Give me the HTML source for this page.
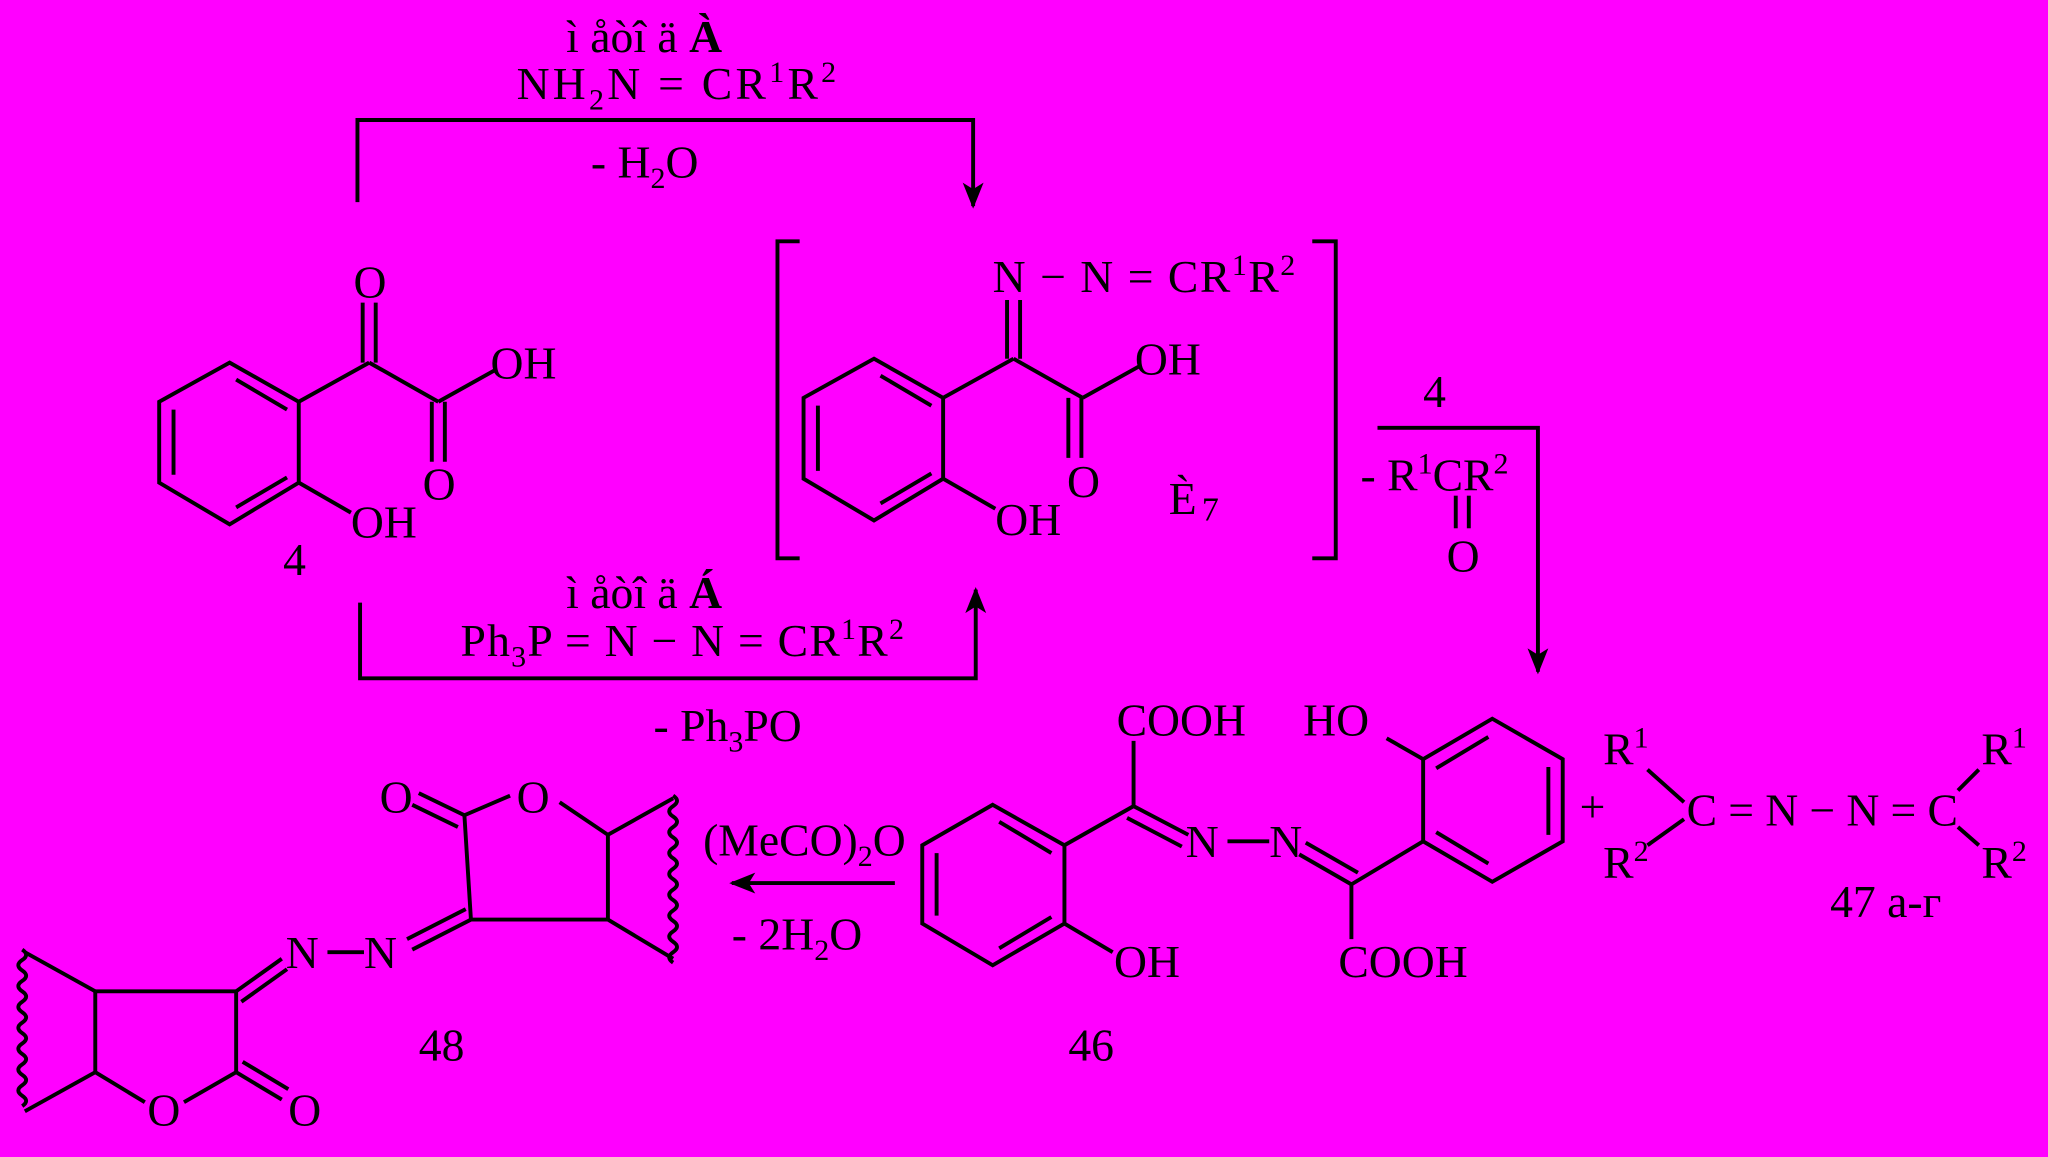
<!DOCTYPE html>
<html><head><meta charset="utf-8"><style>
html,body{margin:0;padding:0;background:#FF00FF;}
svg{display:block}
text{font-family:"Liberation Serif",serif;font-size:35px;fill:#000;}
</style></head><body>
<svg width="2048" height="1157" viewBox="0 0 1568 887" xmlns="http://www.w3.org/2000/svg">
<rect width="1568" height="887" fill="#FF00FF"/>
<defs>
<marker id="ah2" viewBox="0 0 20 20" markerWidth="20" markerHeight="20" refX="18" refY="10" orient="auto" markerUnits="userSpaceOnUse">
<path d="M0,2 L20,10 L0,18 L5,10 Z" fill="#000"/></marker>
</defs>
<g stroke="#000" stroke-width="3" fill="none">
<polyline points="273,155 273,92 745,92 745,158" marker-end="url(#ah2)"/>
<polyline points="275,462 275,520 747,520 747,452" marker-end="url(#ah2)"/>
<polyline points="1055,328 1178,328 1178,515" marker-end="url(#ah2)"/>
<line x1="685" y1="677" x2="560" y2="677" marker-end="url(#ah2)"/>
<polyline points="612,185 595,185 595,428 612,428"/>
<polyline points="1005,185 1023,185 1023,428 1005,428"/>
<g>
<polygon points="175,278 228,308 228,370 175,402 121,370 121,308"/>
<line x1="132" y1="314" x2="132" y2="364"/>
<line x1="180" y1="291" x2="219" y2="314"/>
<line x1="180" y1="389" x2="219" y2="366"/>
<line x1="228" y1="308" x2="282" y2="278"/>
<line x1="282" y1="278" x2="335" y2="308"/>
<line x1="335" y1="308" x2="378" y2="284"/>
<line x1="228" y1="370" x2="268" y2="393"/>
</g>
<line x1="277" y1="278" x2="277" y2="232"/><line x1="287" y1="278" x2="287" y2="232"/>
<line x1="330" y1="308" x2="330" y2="354"/><line x1="340" y1="308" x2="340" y2="354"/>
<g transform="translate(494,-3)">
<polygon points="175,278 228,308 228,370 175,402 121,370 121,308"/>
<line x1="132" y1="314" x2="132" y2="364"/>
<line x1="180" y1="291" x2="219" y2="314"/>
<line x1="180" y1="389" x2="219" y2="366"/>
<line x1="228" y1="308" x2="282" y2="278"/>
<line x1="282" y1="278" x2="335" y2="308"/>
<line x1="335" y1="308" x2="378" y2="284"/>
<line x1="228" y1="370" x2="268" y2="393"/>
<line x1="771" y1="275" x2="771" y2="230" transform="translate(-494,3)"/>
<line x1="781" y1="275" x2="781" y2="230" transform="translate(-494,3)"/>
<line x1="324" y1="308" x2="324" y2="354"/><line x1="334" y1="308" x2="334" y2="354"/>
</g>
<line x1="1115" y1="380" x2="1115" y2="405"/><line x1="1125" y1="380" x2="1125" y2="405"/>
<polygon points="760,617 815,648 815,708 760,740 706,708 706,648"/>
<line x1="717" y1="654" x2="717" y2="702"/>
<line x1="765" y1="630" x2="805" y2="654"/>
<line x1="765" y1="727" x2="805" y2="703"/>
<line x1="815" y1="648" x2="868" y2="618"/>
<line x1="868" y1="618" x2="868" y2="568"/>
<line x1="868" y1="618" x2="910" y2="640"/><line x1="863" y1="627" x2="905" y2="649"/>
<line x1="815" y1="708" x2="852" y2="730"/>
<line x1="940" y1="645" x2="972" y2="645"/>
<line x1="995" y1="655" x2="1035" y2="678"/><line x1="1000" y1="646" x2="1040" y2="669"/>
<line x1="1035" y1="678" x2="1035" y2="720"/>
<line x1="1035" y1="678" x2="1090" y2="645"/>
<polygon points="1090,582 1143,551 1197,582 1197,645 1143,676 1090,645"/>
<line x1="1186" y1="588" x2="1186" y2="640"/>
<line x1="1100" y1="589" x2="1140" y2="565"/>
<line x1="1100" y1="638" x2="1140" y2="662"/>
<line x1="1090" y1="582" x2="1062" y2="566"/>
<line x1="1262" y1="590" x2="1290" y2="615"/>
<line x1="1262" y1="648" x2="1290" y2="628"/>
<line x1="1516" y1="590" x2="1500" y2="606"/>
<line x1="1516" y1="648" x2="1500" y2="634"/>
<line x1="355" y1="625" x2="390" y2="610"/>
<line x1="428" y1="615" x2="465" y2="640"/>
<line x1="465" y1="640" x2="465" y2="705"/>
<line x1="465" y1="705" x2="360" y2="705"/>
<line x1="360" y1="705" x2="355" y2="625"/>
<line x1="355" y1="625" x2="320" y2="608"/><line x1="350" y1="634" x2="315" y2="617"/>
<line x1="465" y1="640" x2="515" y2="612"/>
<line x1="465" y1="705" x2="515" y2="735"/>
<path d="M515,610 q6,4 0,8 q-6,4 0,8 q6,4 0,8 q-6,4 0,8 q6,4 0,8 q-6,4 0,8 q6,4 0,8 q-6,4 0,8 q6,4 0,8 q-6,4 0,8 q6,4 0,8 q-6,4 0,8 q6,4 0,8 q-6,4 0,8 q6,4 0,8 q-6,4 0,8"/>
<line x1="360" y1="705" x2="315" y2="728"/><line x1="356" y1="697" x2="311" y2="720"/>
<line x1="250" y1="730" x2="278" y2="730"/>
<line x1="215" y1="735" x2="180" y2="760"/><line x1="219" y1="743" x2="184" y2="768"/>
<line x1="180" y1="760" x2="72" y2="760"/>
<line x1="72" y1="760" x2="72" y2="822"/>
<line x1="72" y1="822" x2="110" y2="845"/>
<line x1="140" y1="845" x2="180" y2="822"/>
<line x1="180" y1="822" x2="180" y2="760"/>
<line x1="180" y1="822" x2="215" y2="843"/><line x1="185" y1="814" x2="220" y2="835"/>
<line x1="72" y1="760" x2="18" y2="730"/>
<line x1="72" y1="822" x2="18" y2="852"/>
<path d="M16,728 q6,4 0,8 q-6,4 0,8 q6,4 0,8 q-6,4 0,8 q6,4 0,8 q-6,4 0,8 q6,4 0,8 q-6,4 0,8 q6,4 0,8 q-6,4 0,8 q6,4 0,8 q-6,4 0,8 q6,4 0,8 q-6,4 0,8 q6,4 0,8"/>
</g>
<text x="433" y="40">ì  åòî ä <tspan font-weight="bold">À</tspan></text>
<text x="395" y="76" textLength="245" lengthAdjust="spacing">NH<tspan font-size="23" dy="8">2</tspan><tspan dy="-8">N = CR</tspan><tspan font-size="23" dy="-13">1</tspan><tspan dy="13">R</tspan><tspan font-size="23" dy="-13">2</tspan></text>
<text x="452" y="136">- H<tspan font-size="23" dy="8">2</tspan><tspan dy="-8">O</tspan></text>
<text x="270" y="228">O</text>
<text x="375" y="290">OH</text>
<text x="323" y="383">O</text>
<text x="268" y="412">OH</text>
<text x="216" y="441">4</text>
<text x="760" y="224" textLength="232" lengthAdjust="spacing">N − N = CR<tspan font-size="23" dy="-13">1</tspan><tspan dy="13">R</tspan><tspan font-size="23" dy="-13">2</tspan></text>
<text x="869" y="287">OH</text>
<text x="817" y="381">O</text>
<text x="762" y="410">OH</text>
<text x="895" y="394">È<tspan font-size="26" dx="4" dy="5">7</tspan></text>
<text x="433" y="466">ì  åòî ä <tspan font-weight="bold">Á</tspan></text>
<text x="352" y="503" textLength="340" lengthAdjust="spacing">Ph<tspan font-size="23" dy="8">3</tspan><tspan dy="-8">P = N − N = CR</tspan><tspan font-size="23" dy="-13">1</tspan><tspan dy="13">R</tspan><tspan font-size="23" dy="-13">2</tspan></text>
<text x="500" y="568">- Ph<tspan font-size="23" dy="8">3</tspan><tspan dy="-8">PO</tspan></text>
<text x="1090" y="312">4</text>
<text x="1042" y="376">- R<tspan font-size="23" dy="-13">1</tspan><tspan dy="13">CR</tspan><tspan font-size="23" dy="-13">2</tspan></text>
<text x="1108" y="438">O</text>
<text x="855" y="564">COOH</text>
<text x="998" y="564">HO</text>
<text x="908" y="657">N</text>
<text x="972" y="657">N</text>
<text x="853" y="749">OH</text>
<text x="1025" y="749">COOH</text>
<text x="818" y="813">46</text>
<text x="1210" y="630">+</text>
<text x="1228" y="586">R<tspan font-size="23" dy="-13">1</tspan></text>
<text x="1228" y="673">R<tspan font-size="23" dy="-13">2</tspan></text>
<text x="1292" y="633" textLength="208" lengthAdjust="spacing">C = N − N = C</text>
<text x="1518" y="586">R<tspan font-size="23" dy="-13">1</tspan></text>
<text x="1518" y="673">R<tspan font-size="23" dy="-13">2</tspan></text>
<text x="1402" y="703">47 a-г</text>
<text x="538" y="656">(MeCO)<tspan font-size="23" dy="8">2</tspan><tspan dy="-8">O</tspan></text>
<text x="560" y="728">- 2H<tspan font-size="23" dy="8">2</tspan><tspan dy="-8">O</tspan></text>
<text x="290" y="623">O</text>
<text x="395" y="623">O</text>
<text x="278" y="742">N</text>
<text x="218" y="742">N</text>
<text x="320" y="813">48</text>
<text x="112" y="863">O</text>
<text x="220" y="863">O</text>
</svg>
</body></html>
